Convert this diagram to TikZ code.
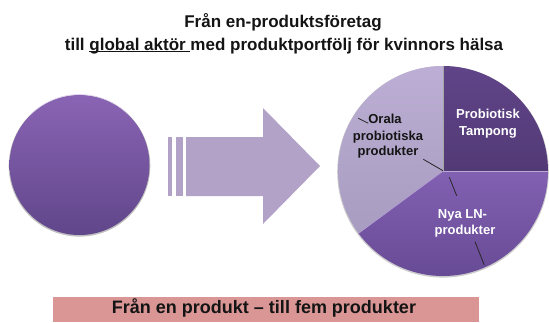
\documentclass[tikz,border=0pt]{standalone}
\usepackage{fontspec}
\setmainfont{Liberation Sans}
\definecolor{circTop}{RGB}{138,100,180}
\definecolor{circBot}{RGB}{96,70,138}
\definecolor{arrowc}{RGB}{179,162,200}
\definecolor{darkTop}{RGB}{96,68,136}
\definecolor{darkBot}{RGB}{82,58,118}
\definecolor{nyaTop}{RGB}{130,96,178}
\definecolor{nyaBot}{RGB}{100,72,146}
\definecolor{lightTop}{RGB}{188,174,212}
\definecolor{lightBot}{RGB}{168,156,192}
\definecolor{barc}{RGB}{217,150,149}
\definecolor{txt}{RGB}{20,20,20}
\newcommand\myul[1]{\setbox0\hbox{#1}\rlap{\rule[-2.4pt]{\wd0}{1.2pt}}\box0}
\tikzset{
  titletext/.style={font=\fontsize{17}{22}\selectfont\bfseries, text=txt, anchor=base, inner sep=0pt},
  pielabel/.style={font=\fontsize{13}{16}\selectfont\bfseries, anchor=base, inner sep=0pt},
  leader/.style={draw=black!85, line width=0.8pt},
}
\begin{document}
\begin{tikzpicture}[x=1pt,y=-1pt]
\useasboundingbox (0,0) rectangle (549,322);
% title
\node[titletext] (t1) at (283,27.7) {Från en-produktsföretag};
\node[titletext] (t2) at (284,50) {till \myul{global aktör }med produktportfölj för kvinnors hälsa};
% left circle
\fill[black!25] (79.5,165.8) circle (70.8);
\shade[top color=circTop, bottom color=circBot] (79.5,165) circle (70);
\draw[white!70!circTop, line width=0.6pt] (30,115) arc[start angle=-135, end angle=-45, radius=70];
% arrow
\fill[arrowc] (168,137) rectangle (172,196);
\fill[arrowc] (176,137) rectangle (183,196);
\fill[arrowc] (186,137) -- (263,137) -- (263,108) -- (320,166) -- (263,224) -- (263,196) -- (186,196) -- cycle;
% pie
\coordinate (c) at (443,171);
\fill[black!20] (443,171.8) circle (105.8);
\shade[top color=darkTop, bottom color=darkBot] (c) -- ++(0:105) arc[start angle=0, end angle=-90, radius=105] -- cycle;
\shade[top color=lightTop, bottom color=lightBot] (c) -- ++(-90:105) arc[start angle=-90, end angle=-216.4, radius=105] -- cycle;
\shade[top color=nyaTop, bottom color=nyaBot] (c) -- ++(-216.4:105) arc[start angle=-216.4, end angle=-360, radius=105] -- cycle;
\draw[white!45!nyaTop, line width=0.9pt] (c) -- ++(0:105);
\draw[black!35, line width=0.5pt] (c) -- ++(-90:105);
\draw[white!40!nyaTop, line width=0.7pt] (c) -- ++(-216.4:105);
% leaders
\coordinate (l1a) at (358.3,118.3); \coordinate (l1b) at (368.3,123.3);
\coordinate (l2a) at (423.3,159.3); \coordinate (l2b) at (443,170.7);
\coordinate (l3a) at (449.3,177.3); \coordinate (l3b) at (456.7,195.7);
\coordinate (l4a) at (475,241.7); \coordinate (l4b) at (484.3,265);
\draw[leader] (l1a) -- (l1b);
\draw[leader] (l2a) -- (l2b);
\draw[leader] (l3a) -- (l3b);
\draw[leader] (l4a) -- (l4b);
% pie labels
\node[pielabel, text=white] (p1) at (488,118.3) {Probiotisk};
\node[pielabel, text=white] (p2) at (488,135) {Tampong};
\node[pielabel, text=txt] (o1) at (385,123.3) {Orala};
\node[pielabel, text=txt] (o2) at (388,140) {probiotiska};
\node[pielabel, text=txt] (o3) at (388,155.5) {produkter};
\node[pielabel, text=white] (n1) at (462.5,218.5) {Nya LN-};
\node[pielabel, text=white] (n2) at (465,234) {produkter};
% bottom bar
\fill[barc] (53,297) rectangle (479,322);
\node[font=\fontsize{18}{22}\selectfont\bfseries, text=txt, anchor=base, inner sep=0pt] (b) at (264,313.5) {Från en produkt – till fem produkter};
\end{tikzpicture}
\end{document}
